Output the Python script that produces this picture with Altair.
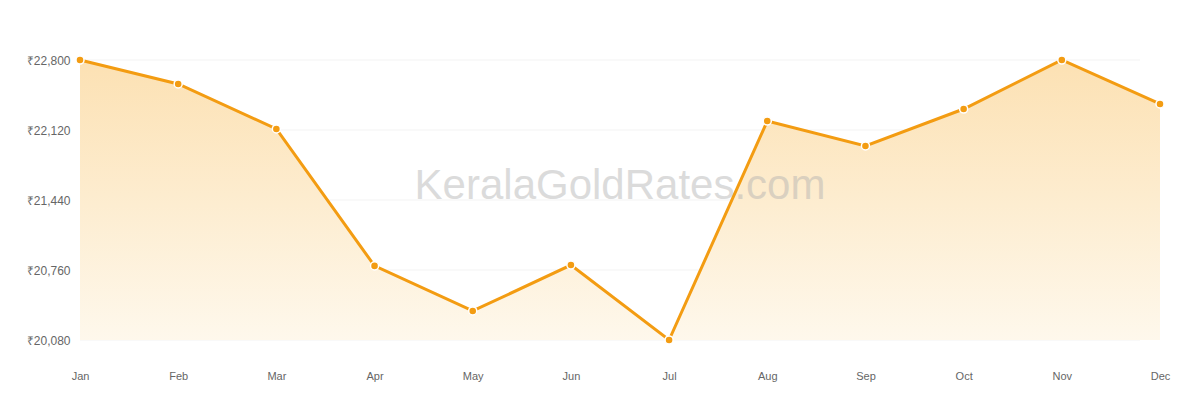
import altair as alt
import pandas as pd

months = ["Jan", "Feb", "Mar", "Apr", "May", "Jun", "Jul", "Aug", "Sep", "Oct", "Nov", "Dec"]
prices = [22800, 22567, 22130, 20800, 20362, 20808, 20080, 22207, 21965, 22324, 22800, 22373]
tick_values = [20080, 20760, 21440, 22120, 22800]

df = pd.DataFrame({"month": months, "price": prices})
grid_df = pd.DataFrame({"v": tick_values})

ORANGE = "#F39C12"

x_enc = alt.X("month:N", sort=months, scale=alt.Scale(type="point", padding=0),
              axis=alt.Axis(title=None, domain=False, ticks=False, grid=False,
                            labelPadding=30, labelFontSize=11, labelColor="#666666",
                            labelFont="Liberation Sans", labelAngle=0))
y_scale = alt.Scale(domain=[20080, 22800], nice=False, zero=False)

grid = alt.Chart(grid_df).mark_rule(color="#f3f3f3", strokeWidth=1).encode(
    y=alt.Y("v:Q", scale=y_scale,
            axis=alt.Axis(title=None, domain=False, ticks=False, grid=False,
                          values=tick_values, labelPadding=10, labelFontSize=12,
                          labelColor="#666666", labelFont="Liberation Sans",
                          labelExpr="'₹' + format(datum.value, ',')")),
    x=alt.value(0), x2=alt.value(1060),
)

area = alt.Chart(df).mark_area(
    color=alt.Gradient(
        gradient="linear",
        stops=[alt.GradientStop(color="#FCE1B3", offset=0),
               alt.GradientStop(color="#FEF8EC", offset=1)],
        x1=1, x2=1, y1=0, y2=1,
    ),
    opacity=1,
).encode(x=x_enc, y=alt.Y("price:Q", scale=y_scale), y2=alt.datum(20080))

line = alt.Chart(df).mark_line(color=ORANGE, strokeWidth=3).encode(
    x=x_enc, y=alt.Y("price:Q", scale=y_scale))

points = alt.Chart(df).mark_point(filled=True, fill=ORANGE, stroke="white",
                                  strokeWidth=1.5, size=65, opacity=1).encode(
    x=x_enc, y=alt.Y("price:Q", scale=y_scale))

watermark = alt.Chart(pd.DataFrame({"t": ["KeralaGoldRates.com"]})).mark_text(
    fontSize=42, font="Liberation Sans", color="#b0b0b0", opacity=0.45,
    align="center", baseline="middle",
).encode(text="t:N", x=alt.value(540), y=alt.value(126))

chart = alt.layer(grid, area, line, points, watermark).properties(
    width=1080, height=280,
    autosize=alt.AutoSizeParams(type="none"),
    padding={"left": 72, "top": 52, "right": 16, "bottom": 44},
).configure(background="white").configure_view(strokeWidth=0, stroke=None)

chart.save("out.html", embed_options={"renderer": "svg", "actions": False})
